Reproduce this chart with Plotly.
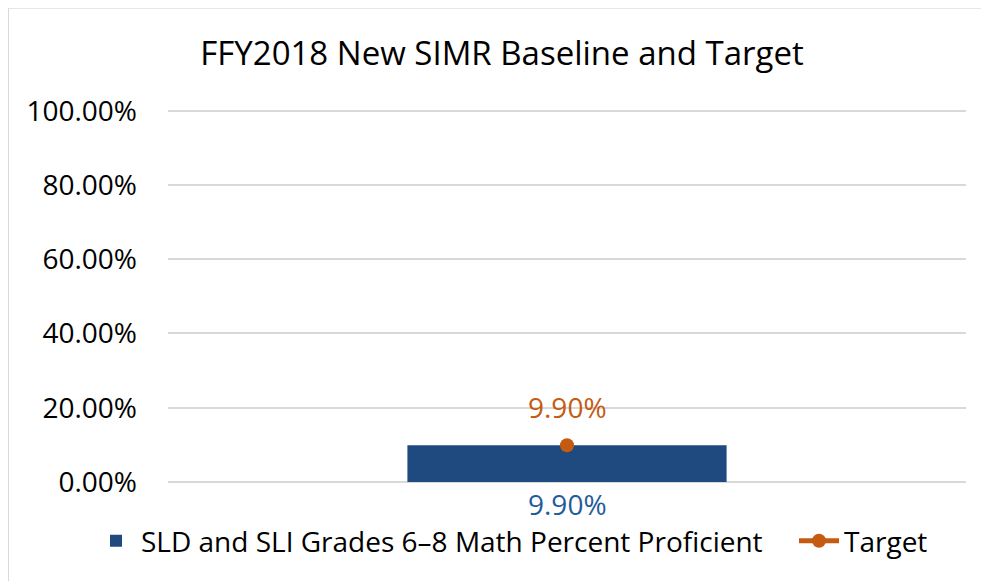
import plotly.graph_objects as go

categories = ["FFY2018"]
proficient_values = [0.099]
target_values = [0.099]
series_names = ["SLD and SLI Grades 6–8 Math Percent Proficient", "Target"]
title_text = "FFY2018 New SIMR Baseline and Target"

FONT = "Open Sans"
BLUE = "#1F4A7F"
LABEL_BLUE = "#1F5C99"
ORANGE = "#C55A11"

# page is offset by 8px body margin; figure coordinates = page coords - 8
W, H = 981, 573
Y_TOP = 1.01
L = 160
B = H - (482 - 8)
T = (482 - 8) - 371 * Y_TOP
R = W - (966 - 8)
pw, ph = W - L - R, H - T - B

fig = go.Figure()
fig.add_trace(go.Bar(
    x=categories, y=proficient_values, name=series_names[0],
    marker=dict(color=BLUE, line=dict(width=0)), width=0.4,
    legend="legend",
))
fig.add_trace(go.Scatter(
    x=categories, y=target_values, name=series_names[1],
    mode="lines+markers",
    marker=dict(color=ORANGE, size=14),
    line=dict(color=ORANGE, width=5),
    legend="legend2",
))

for c, v in zip(categories, proficient_values):
    fig.add_annotation(x=c, y=0, text=f"{v*100:.2f}%", showarrow=False,
                       yanchor="top", yshift=-1,
                       font=dict(family=FONT, size=28, color=LABEL_BLUE))
for c, v in zip(categories, target_values):
    fig.add_annotation(x=c, y=v, text=f"{v*100:.2f}%", showarrow=False,
                       yanchor="bottom", yshift=17,
                       font=dict(family=FONT, size=28, color=ORANGE))

fig.add_shape(type="rect", xref="paper", yref="paper",
              x0=(0.5 - L) / pw, x1=1.3, y0=-0.6, y1=(H - B - 0.5) / ph,
              line=dict(color="#D9D9D9", width=1), fillcolor="rgba(0,0,0,0)",
              layer="below")

legend_y = (H - B - (541 - 8)) / ph
legend_font = dict(family=FONT, size=28, color="black")

fig.update_layout(
    width=W, height=H,
    margin=dict(l=L, r=R, t=T, b=B, autoexpand=False),
    paper_bgcolor="white", plot_bgcolor="white",
    font=dict(family=FONT, color="black"),
    title=dict(text=title_text, x=(502 - 8) / W, xanchor="center",
               y=1 - (53 - 8) / H, yanchor="middle",
               font=dict(family=FONT, size=33, color="black")),
    showlegend=True,
    legend=dict(orientation="h", x=(83 - L) / pw, xanchor="left",
                y=legend_y, yanchor="middle", font=legend_font,
                itemwidth=40, tracegroupgap=0),
    legend2=dict(orientation="h", x=(786 - L) / pw, xanchor="left",
                 y=legend_y, yanchor="middle", font=legend_font,
                 itemwidth=40, tracegroupgap=0),
    xaxis=dict(type="category", range=[-0.5, 0.5], showticklabels=False,
               showgrid=False, zeroline=False, showline=False, ticks=""),
    yaxis=dict(range=[0, Y_TOP], tickvals=[0, 0.2, 0.4, 0.6, 0.8, 1.0],
               tickformat=".2%",
               showgrid=True, gridcolor="#D9D9D9", gridwidth=1.5,
               zeroline=True, zerolinecolor="#D9D9D9", zerolinewidth=1.5,
               showline=False, ticks="", ticklabelstandoff=30,
               tickfont=dict(family=FONT, size=28, color="black")),
    bargap=0.6,
)

fig.write_html("out.html")
